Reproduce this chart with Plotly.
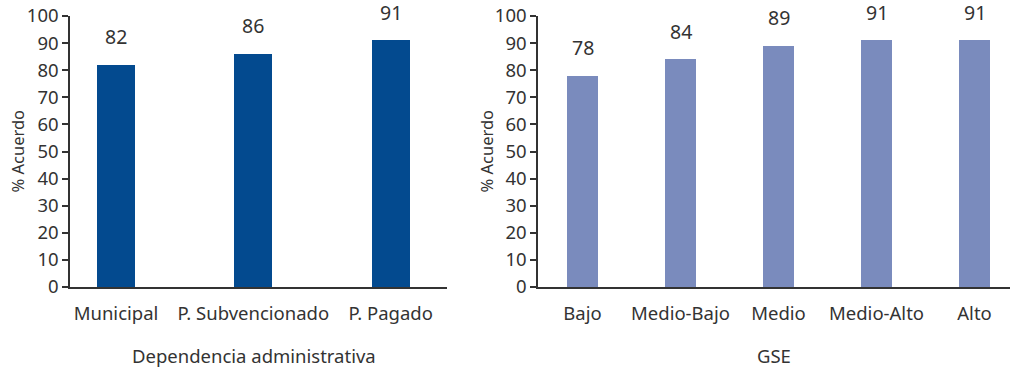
import plotly.graph_objects as go
from plotly.subplots import make_subplots

dep_cats = ["Municipal", "P. Subvencionado", "P. Pagado"]
dep_vals = [82, 86, 91]
gse_cats = ["Bajo", "Medio-Bajo", "Medio", "Medio-Alto", "Alto"]
gse_vals = [78, 84, 89, 91, 91]
y_ticks = list(range(0, 101, 10))

W, H = 1014, 367
FONT = "Noto Sans"
TXT = "#333333"
AX = "#333333"

fig = make_subplots(rows=1, cols=2)
fig.add_trace(go.Bar(x=dep_cats, y=dep_vals, marker_color="#034a8f", width=0.276,
                     marker_line_width=0), row=1, col=1)
fig.add_trace(go.Bar(x=gse_cats, y=gse_vals, marker_color="#7a8bbd", width=0.316,
                     marker_line_width=0), row=1, col=2)

annots = []
for c, v in zip(dep_cats, dep_vals):
    annots.append(dict(x=c, y=v, xref="x", yref="y", text=str(v), showarrow=False,
                       yanchor="middle", yshift=28, font=dict(size=19.5, color=TXT, family=FONT)))
for c, v in zip(gse_cats, gse_vals):
    annots.append(dict(x=c, y=v, xref="x2", yref="y2", text=str(v), showarrow=False,
                       yanchor="middle", yshift=28, font=dict(size=19.5, color=TXT, family=FONT)))

def px(xp):
    return xp / W

plot_h = 287 - 16
def py(yp):
    return (287 - yp) / plot_h

for xp, t in [(17, "% Acuerdo"), (486, "% Acuerdo")]:
    annots.append(dict(x=px(xp), y=0.5, xref="paper", yref="paper", text=t, textangle=-90,
                       showarrow=False, xanchor="center", yanchor="middle",
                       font=dict(size=16.5, color=TXT, family=FONT)))
for xp, t in [(254, "Dependencia administrativa"), (774, "GSE")]:
    annots.append(dict(x=px(xp), y=py(355), xref="paper", yref="paper", text=t,
                       showarrow=False, xanchor="center", yanchor="middle",
                       font=dict(size=18.5, color=TXT, family=FONT)))

yax = dict(range=[0, 100], tickvals=y_ticks, showline=True, linecolor=AX, linewidth=1.5,
           ticks="outside", ticklen=6, tickcolor=AX, tickwidth=1.5, showgrid=False,
           zeroline=False, tickfont=dict(size=18.5, color=TXT, family=FONT), fixedrange=True)
xax = dict(showline=True, linecolor=AX, linewidth=1.5, showgrid=False, zeroline=False,
           ticks="outside", ticklen=9, tickcolor="rgba(0,0,0,0)",
           tickfont=dict(size=18.5, color=TXT, family=FONT))

fig.update_layout(
    width=W, height=H,
    margin=dict(l=0, r=0, t=16, b=80),
    paper_bgcolor="white", plot_bgcolor="white",
    showlegend=False,
    bargap=0,
    annotations=annots,
    font=dict(family=FONT, color=TXT),
    xaxis=dict(xax, domain=[px(70), px(447)], range=[-0.335, 2.41]),
    xaxis2=dict(xax, domain=[px(538), px(1010)], range=[-0.454, 4.362]),
    yaxis=dict(yax),
    yaxis2=dict(yax),
)

fig.write_html("out.html")
